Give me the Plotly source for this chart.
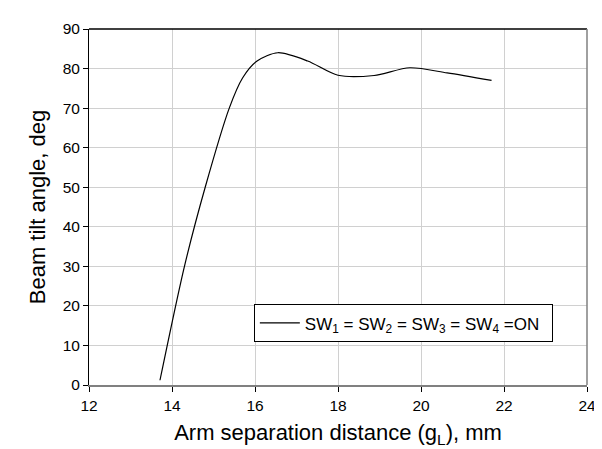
import plotly.graph_objects as go

# Arm separation distance (g_L), mm
gap_mm = [13.71, 14.30, 14.80, 15.38, 15.70, 16.05, 16.55, 17.27, 18.0, 18.87, 19.73, 20.63, 21.70]
# Beam tilt angle, deg
tilt_deg = [1.2, 30, 50, 70, 77.6, 81.9, 84.0, 81.9, 78.3, 78.25, 80.2, 78.9, 77.0]

series_name = "SW<sub>1</sub> = SW<sub>2</sub> = SW<sub>3</sub> = SW<sub>4</sub> =ON"
x_ticks = [12, 14, 16, 18, 20, 22, 24]
y_ticks = [0, 10, 20, 30, 40, 50, 60, 70, 80, 90]

FONT = "Liberation Sans, Arial, sans-serif"

fig = go.Figure()
fig.add_trace(go.Scatter(
    x=gap_mm, y=tilt_deg, mode="lines", name=series_name,
    line=dict(color="black", width=1.2, shape="spline", smoothing=0.8),
))

fig.update_layout(
    width=602, height=449,
    margin=dict(l=81, r=23, t=18, b=72),
    paper_bgcolor="white", plot_bgcolor="white",
    font=dict(family=FONT, size=16, color="black"),
    showlegend=True,
    legend=dict(
        x=0.331, y=0.2265, xanchor="left", yanchor="top",
        orientation="h", entrywidth=242, entrywidthmode="pixels",
        bordercolor="black", borderwidth=1, bgcolor="white",
        font=dict(family=FONT, size=17, color="black"),
        itemwidth=40,
    ),
    xaxis=dict(
        range=[12, 24], tickvals=x_ticks, ticktext=[str(v) for v in x_ticks],
        showgrid=True, gridcolor="#d0d0d0", gridwidth=1,
        showline=True, linecolor="#808080", linewidth=2,
        ticks="outside", ticklen=5, tickcolor="black",
        zeroline=False,
        title=dict(text="Arm separation distance (g<sub>L</sub>), mm",
                   font=dict(size=22), standoff=12),
        tickfont=dict(size=15.5),
    ),
    yaxis=dict(
        range=[0, 90], tickvals=y_ticks, ticktext=[str(v) for v in y_ticks],
        showgrid=True, gridcolor="#d0d0d0", gridwidth=1,
        showline=True, linecolor="black", linewidth=1,
        ticks="outside", ticklen=5, tickcolor="black",
        zeroline=False,
        title=dict(text="Beam tilt angle, deg", font=dict(size=22), standoff=10),
        tickfont=dict(size=15.5),
    ),
    shapes=[
        dict(type="line", xref="paper", yref="paper", x0=0, x1=1, y0=1, y1=1,
             line=dict(color="black", width=1.5)),
        dict(type="line", xref="paper", yref="paper", x0=1, x1=1, y0=0, y1=1,
             line=dict(color="#808080", width=1.5)),
    ],
)

fig.write_html("out.html")
